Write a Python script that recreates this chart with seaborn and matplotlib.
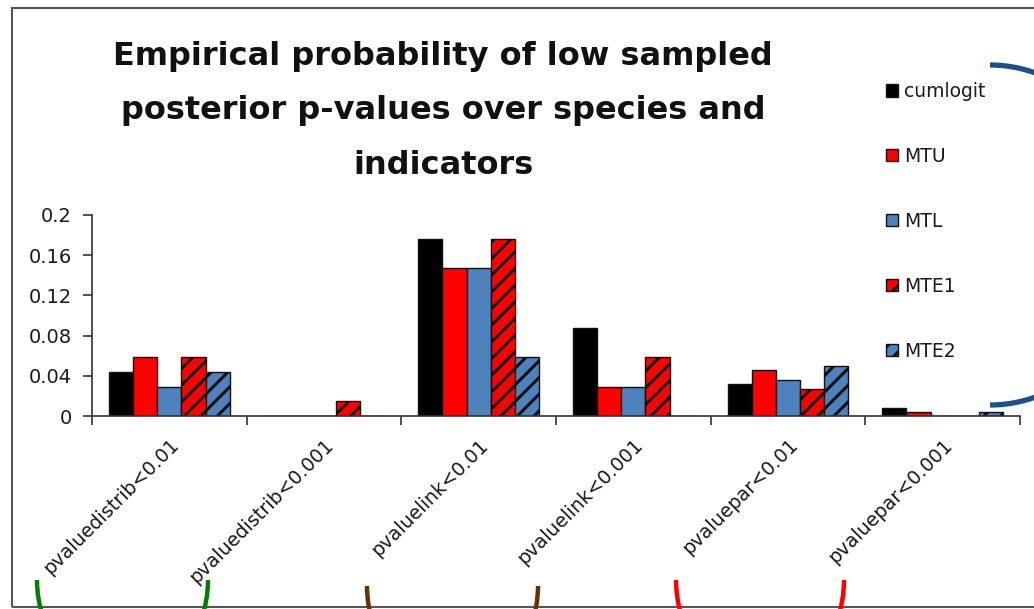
import numpy as np
import pandas as pd
import matplotlib
matplotlib.use("Agg")
import matplotlib.pyplot as plt
import seaborn as sns
from matplotlib.patches import Arc, Rectangle
from matplotlib.transforms import IdentityTransform

# ---------------- data ----------------
categories = ["pvaluedistrib<0.01", "pvaluedistrib<0.001", "pvaluelink<0.01",
              "pvaluelink<0.001", "pvaluepar<0.01", "pvaluepar<0.001"]
models = ["cumlogit", "MTU", "MTL", "MTE1", "MTE2"]
cumlogit = [0.044, 0.0, 0.176, 0.088, 0.032, 0.008]
mtu = [0.059, 0.0, 0.147, 0.029, 0.046, 0.004]
mtl = [0.029, 0.0, 0.147, 0.029, 0.036, 0.0]
mte1 = [0.059, 0.015, 0.176, 0.059, 0.027, 0.0]
mte2 = [0.044, 0.0, 0.059, 0.0, 0.050, 0.004]
yticks = [0, 0.04, 0.08, 0.12, 0.16, 0.2]
yticklabels = ["0", "0.04", "0.08", "0.12", "0.16", "0.2"]
title = "Empirical probability of low sampled\nposterior p-values over species and\nindicators"

colors = ["#000000", "#ff0000", "#4f81bd", "#ff0000", "#4f81bd"]
hatched = ["MTE1", "MTE2"]

series = [cumlogit, mtu, mtl, mte1, mte2]
df = pd.DataFrame({
    "category": categories * len(models),
    "model": [m for m in models for _ in categories],
    "value": [v for s in series for v in s],
})

# ---------------- style ----------------
sns.set_theme(style="white")
plt.rcParams["font.family"] = ["DejaVu Sans"]
plt.rcParams["hatch.linewidth"] = 2.2
plt.rcParams["hatch.color"] = "black"

W, H = 1034, 609
fig = plt.figure(figsize=(W / 100, H / 100), dpi=100)
ax = fig.add_axes([92 / W, 1 - 416 / H, (1020 - 92) / W, (416 - 215) / H])

sns.barplot(data=df, x="category", y="value", hue="model", hue_order=models,
            order=categories, palette=colors, saturation=1, width=0.78, gap=0,
            edgecolor="#111111", linewidth=1.0, errorbar=None, legend=False, ax=ax)

for cont, m in zip(ax.containers, models):
    if m in hatched:
        for p in cont.patches:
            p.set_hatch("//")

# axes
ax.set_ylim(0, 0.2)
ax.set_xlim(-0.5, len(categories) - 0.5)
ax.set_yticks(yticks)
ax.set_yticklabels(yticklabels)
ax.set_xticks(np.arange(-0.5, len(categories), 1.0))
ax.set_xticklabels([])
ax.set_xticks(np.arange(len(categories)), minor=True)
ax.set_xticklabels(categories, minor=True, rotation=45, ha="right", va="top",
                   rotation_mode="anchor")
ax.set_xlabel("")
ax.set_ylabel("")
ax.tick_params(axis="x", which="major", bottom=True, length=6.5, width=1.2,
               color="#333333", direction="out")
ax.tick_params(axis="x", which="minor", bottom=True, length=0, pad=14,
               labelsize=13.8, labelcolor="#1a1a1a")
ax.tick_params(axis="y", left=True, length=6.5, width=1.2, color="#333333",
               pad=8, labelsize=14, labelcolor="#1a1a1a")
for s in ["top", "right"]:
    ax.spines[s].set_visible(False)
for s in ["left", "bottom"]:
    ax.spines[s].set_color("#333333")
    ax.spines[s].set_linewidth(1.2)

# legend
handles = [c.patches[0] for c in ax.containers]
fig.legend(handles, models, loc="upper left",
           bbox_to_anchor=(869 / W, 1 - 65 / H), bbox_transform=fig.transFigure,
           frameon=False, fontsize=13.5, labelspacing=2.45, handlelength=0.65,
           handleheight=0.65, handletextpad=0.3, labelcolor="#1a1a1a")

# title
fig.text(443 / W, 1 - 111 / H, title, ha="center", va="center", fontsize=23,
         fontweight="bold", linespacing=1.97, color="#111111")

# chart frame and hand-drawn annotation arcs (decoration)
ident = IdentityTransform()
fig.patches.append(Rectangle((12, 2), 1100, 599, transform=ident, fill=False,
                             edgecolor="#555555", linewidth=1.5))
for cx, cy, w, col in [(122.5, 29, 171, "#008000"), (452.5, 23, 171, "#663300"),
                       (760, 29, 168, "#ff0000")]:
    fig.patches.append(Arc((cx, cy), w, 200, theta1=180, theta2=360,
                           transform=ident, color=col, linewidth=3.2))
fig.patches.append(Arc((990, 609 - 235), 300, 340, theta1=-90, theta2=90,
                       transform=ident, color="#1b4f8f", linewidth=3.8))

fig.savefig("out.png", dpi=100)
